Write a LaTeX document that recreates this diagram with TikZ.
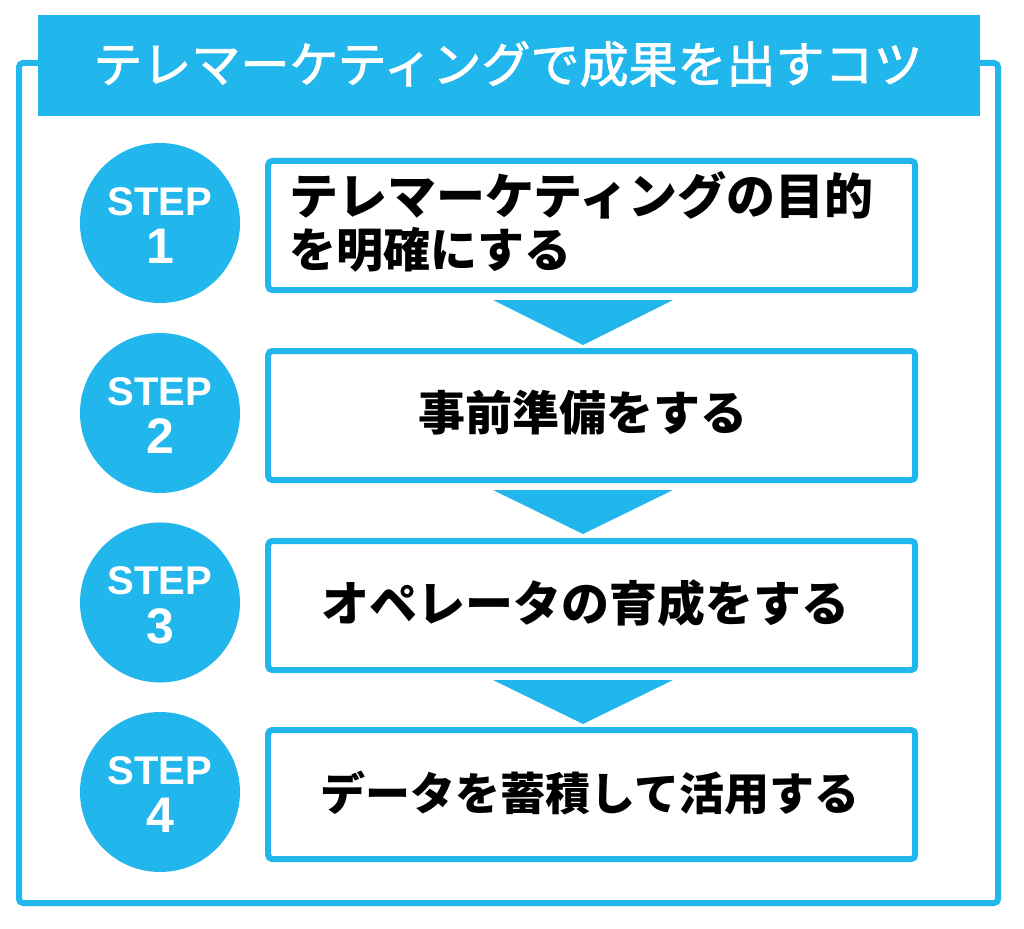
\documentclass[tikz,border=0pt]{standalone}
\usepackage{fontspec}
\setmainfont{Noto Sans CJK JP}
\newfontfamily\titlefont{Noto Sans CJK JP}[FakeBold=1.6]
\newfontfamily\stepfont{Liberation Sans}
\definecolor{sky}{HTML}{21B6EC}
\begin{document}
\begin{tikzpicture}[x=1pt,y=-1pt,
  frame/.style={draw=sky,line width=6pt,rounded corners=4pt},
  banner/.style={fill=sky},
  titletext/.style={text=white,font=\titlefont\fontsize{49}{56}\selectfont,inner sep=0pt},
  stepcircle/.style={circle,fill=sky,minimum size=160pt,inner sep=0pt},
  steplabel/.style={text=white,font=\stepfont\bfseries\fontsize{40}{48}\selectfont,anchor=base,inner sep=0pt},
  stepnum/.style={text=white,font=\stepfont\bfseries\fontsize{50}{60}\selectfont,anchor=base,inner sep=0pt},
  stepbox/.style={draw=sky,line width=6pt,rounded corners=4pt,fill=white,minimum width=647pt,minimum height=129pt,inner sep=0pt},
  boxtext/.style={font=\bfseries\fontsize{47}{53}\selectfont,text=black,inner sep=0pt},
  downtri/.style={fill=sky}
]
\useasboundingbox (0,0) rectangle (1024,928);
% outer frame
\draw[frame] (19,63) rectangle (998,903);
% title banner
\fill[banner] (38,15) rectangle (980,116);
\node[titletext] (title) at (508,64) {テレマーケティングで成果を出すコツ};

% step boxes
\node[stepbox] (b1) at (591.7,225.5) {};
\node[stepbox] (b2) at (591.7,415.5) {};
\node[stepbox] (b3) at (591.7,605.5) {};
\node[stepbox] (b4) at (591.7,794.5) {};

\node[boxtext,align=left,anchor=west] (t1) at (289,222) {\fontsize{49}{53}\selectfont テレマーケティングの目的\\を明確にする};
\node[boxtext] (t2) at (583,413) {事前準備をする};
\node[boxtext] (t3) at (585,603) {\fontsize{48}{53}\selectfont オペレータの育成をする};
\node[boxtext] (t4) at (590,793) {\fontsize{45}{53}\selectfont データを蓄積して活用する};

% circles
\foreach \i/\y in {1/223,2/413,3/602.5,4/792}{
  \node[stepcircle] (c\i) at (160,\y) {};
  \node[steplabel] (s\i) at (160,\y-8) {STEP};
  \node[stepnum] (n\i) at (160,\y+40.5) {\i};
}

% down triangles
\fill[downtri] (493,300) -- (673,300) -- (583,345) -- cycle;
\fill[downtri] (493,490) -- (673,490) -- (583,534) -- cycle;
\fill[downtri] (493,680) -- (673,680) -- (583,724) -- cycle;
\end{tikzpicture}
\end{document}
